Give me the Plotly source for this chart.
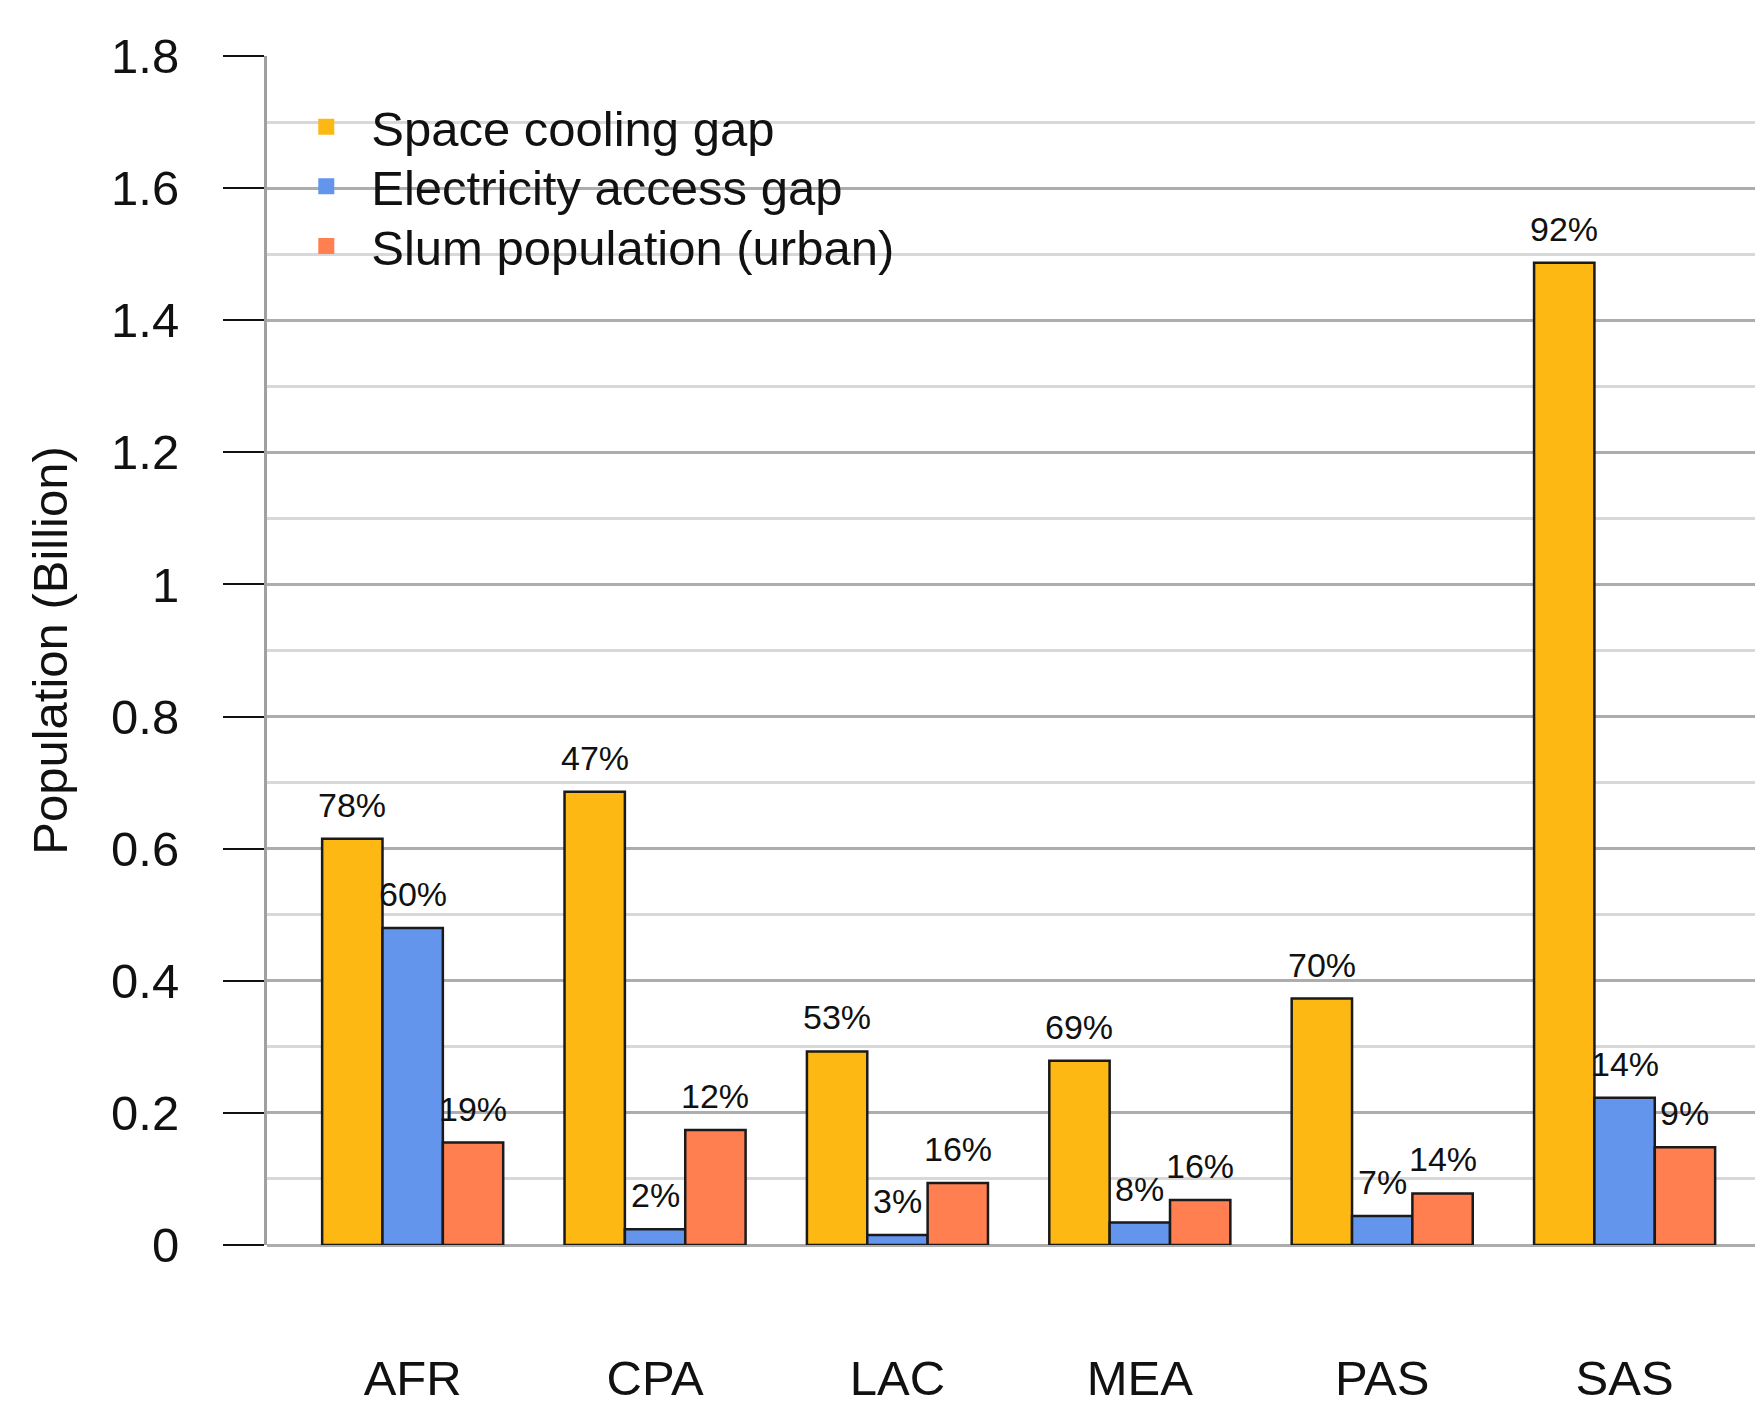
import plotly.graph_objects as go

categories = ["AFR", "CPA", "LAC", "MEA", "PAS", "SAS"]
series_names = ["Space cooling gap", "Electricity access gap", "Slum population (urban)"]
space_cooling = [0.615, 0.686, 0.293, 0.279, 0.373, 1.487]
electricity = [0.480, 0.024, 0.015, 0.034, 0.044, 0.223]
slum = [0.155, 0.174, 0.094, 0.068, 0.078, 0.148]
pct_space = ["78%", "47%", "53%", "69%", "70%", "92%"]
pct_elec = ["60%", "2%", "3%", "8%", "7%", "14%"]
pct_slum = ["19%", "12%", "16%", "16%", "14%", "9%"]
y_ticks = [0, 0.2, 0.4, 0.6, 0.8, 1, 1.2, 1.4, 1.6, 1.8]
y_ticktext = ["0", "0.2", "0.4", "0.6", "0.8", "1", "1.2", "1.4", "1.6", "1.8"]

colors = ["#FDB813", "#6495ED", "#FF7F50"]
values = [space_cooling, electricity, slum]
pcts = [pct_space, pct_elec, pct_slum]

FONT = "Liberation Sans, Arial, sans-serif"
BARGAP = 0.253
bw = (1 - BARGAP) / 3

fig = go.Figure()
for name, vals, col in zip(series_names, values, colors):
    fig.add_trace(go.Bar(
        x=categories, y=vals, name=name, showlegend=False,
        marker=dict(color=col, line=dict(color="#1a1a1a", width=2.5)),
    ))

# one legend per series so each row can sit where the reference puts it
legend_ids = ["legend", "legend2", "legend3"]
legend_y = [0.9404, 0.8903, 0.8401]
for name, col, lid in zip(series_names, colors, legend_ids):
    fig.add_trace(go.Scatter(
        x=[None], y=[None], mode="markers", name=name, legend=lid,
        marker=dict(symbol="square", size=20, color=col),
    ))

for j, (vals, labels) in enumerate(zip(values, pcts)):
    for i, (v, t) in enumerate(zip(vals, labels)):
        fig.add_annotation(
            x=i + (j - 1) * bw, y=v, xref="x", yref="y",
            text=t, showarrow=False, yanchor="bottom", yshift=13,
            font=dict(family=FONT, size=34, color="#111"),
        )

legend_common = dict(
    x=0.0095, xanchor="left", yanchor="middle",
    bgcolor="rgba(0,0,0,0)", font=dict(size=49, family=FONT, color="#111"),
    itemwidth=80,
)

fig.update_layout(
    width=1763, height=1403,
    paper_bgcolor="white", plot_bgcolor="white",
    margin=dict(l=259, r=0, t=48, b=166),
    barmode="group", bargap=BARGAP, bargroupgap=0,
    font=dict(family=FONT, size=49, color="#111"),
    legend=dict(y=legend_y[0], **legend_common),
    legend2=dict(y=legend_y[1], **legend_common),
    legend3=dict(y=legend_y[2], **legend_common),
    xaxis=dict(
        type="category", range=[-0.601, 5.604],
        showgrid=False, ticks="", showline=False, zeroline=False,
        tickfont=dict(size=49, family=FONT, color="#111"),
        ticklabelstandoff=100,
    ),
    yaxis=dict(
        range=[0, 1.8], tickvals=y_ticks, ticktext=y_ticktext,
        showgrid=True, gridcolor="#adadad", gridwidth=3,
        minor=dict(dtick=0.1, showgrid=True, gridcolor="#d8d8d8", gridwidth=3, ticks=""),
        ticks="outside", ticklen=41, tickwidth=2, tickcolor="#111",
        showline=True, linecolor="#a0a0a0", linewidth=3,
        zeroline=True, zerolinecolor="#adadad", zerolinewidth=3,
        tickfont=dict(size=49, family=FONT, color="#111"),
        ticklabelstandoff=34,
        title=dict(text="Population (Billion)", font=dict(size=49, family=FONT, color="#111"), standoff=28),
    ),
)

fig.write_html("out.html")
